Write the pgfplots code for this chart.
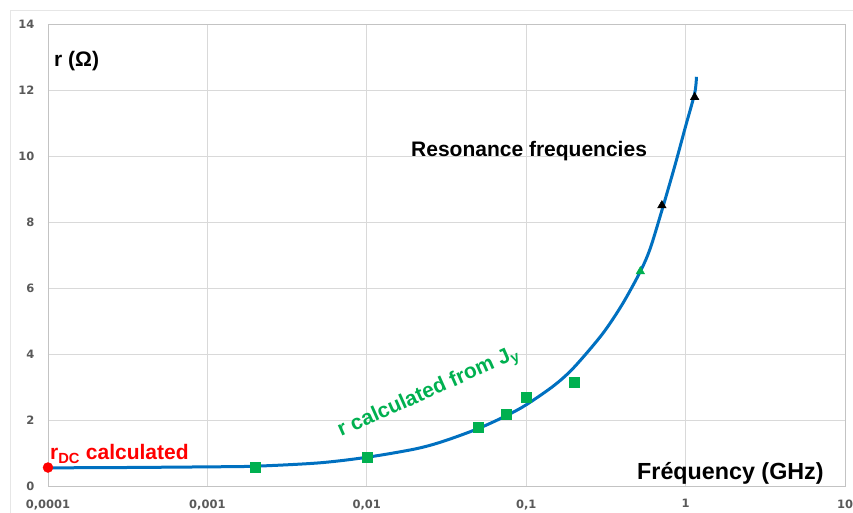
\documentclass[border=0pt]{standalone}
\usepackage{pgfplots}
\pgfplotsset{compat=1.18}
\usepackage{fontspec}
\setmainfont{Liberation Sans}
\newfontfamily\dejavu{DejaVu Sans}
\definecolor{lineblue}{RGB}{0,112,192}
\definecolor{sqgreen}{RGB}{0,176,80}
\definecolor{ticklab}{RGB}{89,89,89}
\definecolor{gridc}{RGB}{217,217,217}
\definecolor{framec}{RGB}{230,230,230}
\begin{document}
\begin{tikzpicture}
\path[use as bounding box] (0,0) rectangle (853pt,513pt);
\draw[framec, line width=0.8pt] (10pt,0pt) -- (10pt,503pt) -- (853pt,503pt);
\begin{axis}[
  at={(48pt,27pt)}, anchor=south west,
  scale only axis, width=797pt, height=462pt,
  xmode=log, xmin=1e-4, xmax=10, ymin=0, ymax=14,
  xtick={1e-4,1e-3,1e-2,1e-1,1,10},
  xticklabels={{0,0001},{0,001},{0,01},{0,1},{1},{10}},
  ytick={0,2,4,6,8,10,12,14},
  yticklabels={0,2,4,6,8,10,12,14},
  xminorticks=false,
  major tick length=0pt,
  grid=major,
  major grid style={gridc, line width=0.8pt},
  axis line style={gridc!90!black, line width=0.8pt},
  tick label style={font=\dejavu\bfseries\fontsize{11.5}{13}\selectfont, text=ticklab},
  xticklabel style={yshift=-10pt},
  yticklabel style={xshift=-10pt},
  clip=false,
]
% resonance triangles (behind the line)
\addplot[only marks, mark=triangle*, mark size=5pt, color=sqgreen] coordinates {(0.52,6.5)};
\addplot[only marks, mark=triangle*, mark size=5pt, color=black] coordinates {(0.71,8.5) (1.14,11.78)};
% fitted curve
\addplot[lineblue, line width=3pt, smooth, tension=0.5] coordinates {
 (0.0001,0.55) (0.0003,0.56) (0.001,0.58) (0.002,0.60) (0.005,0.70)
 (0.01,0.87) (0.02,1.12) (0.03,1.35) (0.05,1.74) (0.075,2.13)
 (0.1,2.46) (0.15,3.05) (0.2,3.6) (0.3,4.6) (0.4,5.5) (0.52,6.5)
 (0.6,7.2) (0.71,8.35) (0.85,9.65) (1.0,10.9) (1.14,11.9) (1.17,12.4)};
% r from Jy squares
\addplot[only marks, mark=square*, mark size=5pt, color=sqgreen] coordinates {
 (0.002,0.58) (0.01,0.88) (0.05,1.79) (0.075,2.18) (0.1,2.7) (0.2,3.15)};
% rDC
\addplot[only marks, mark=*, mark size=5pt, color=red] coordinates {(0.0001,0.56)};
\end{axis}
\node[anchor=base west, inner sep=0pt, font=\bfseries\fontsize{21}{24}\selectfont] at (54pt,446pt) {r (Ω)};
\node[anchor=base west, inner sep=0pt, font=\bfseries\fontsize{21}{24}\selectfont] at (411pt,356pt) {Resonance frequencies};
\node[anchor=base west, inner sep=0pt, font=\bfseries\fontsize{23.3}{26}\selectfont] at (637pt,33pt) {Fréquency (GHz)};
\node[anchor=base west, inner sep=0pt, text=red, font=\bfseries\fontsize{21}{24}\selectfont] at (50pt,53pt) {r\textsubscript{DC} calculated};
\node[anchor=base west, inner sep=0pt, text=sqgreen, rotate=24, font=\bfseries\fontsize{21}{24}\selectfont] at (341pt,76pt) {r calculated from J\textsubscript{y}};
\end{tikzpicture}
\end{document}
